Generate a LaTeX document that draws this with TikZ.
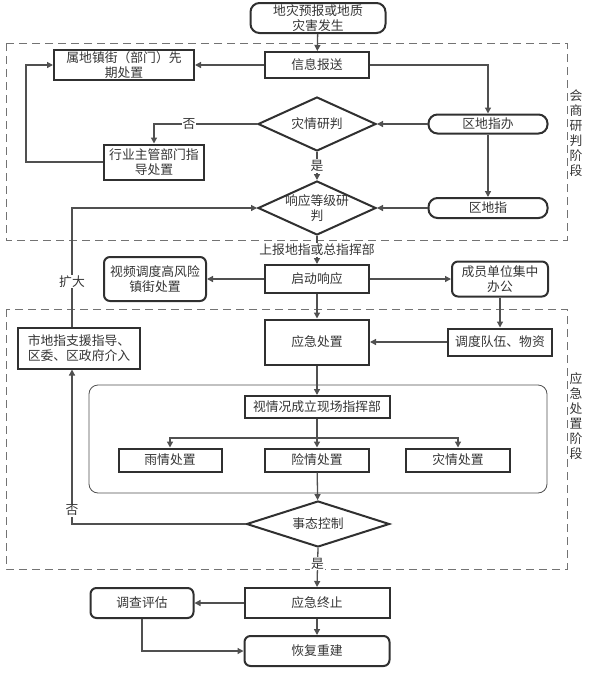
\documentclass[tikz,border=0pt]{standalone}
\usepackage{fontspec}
\setmainfont{Noto Sans CJK SC}
\usetikzlibrary{shapes.geometric,arrows.meta}
\newcommand\myfs{\fontsize{12.8}{15}\selectfont}
\definecolor{ln}{HTML}{505050}
\definecolor{bd}{HTML}{303030}
\definecolor{tx}{HTML}{353535}
\begin{document}
\begin{tikzpicture}[x=1pt,y=-1pt,
  base/.style={draw=bd,line width=2pt,fill=white,inner sep=1pt,align=center,font=\myfs,text=tx},
  box/.style={base,rectangle},
  rbox/.style={base,rectangle,rounded corners=6pt},
  stad/.style={base,rectangle,rounded corners=9pt},
  dia/.style={base,diamond,inner sep=0pt},
  dtext/.style={align=center,font=\myfs,text=tx,inner sep=0pt},
  arr/.style={draw=ln,line width=1.3pt,-{Triangle[length=6pt,width=6pt]}},
  ln/.style={draw=ln,line width=1.3pt},
  lab/.style={fill=white,inner sep=1pt,font=\myfs,text=tx},
  phase/.style={draw=ln!80,line width=0.9pt,dash pattern=on 8pt off 5pt},
  side/.style={font=\myfs,text=tx,align=center,inner sep=0pt}]
\useasboundingbox (0,0) rectangle (590,673);
% phase frames
\draw[phase] (6,43) rectangle (567,240);
\draw[phase] (6,309) rectangle (567,569);
\node[side] (s1) at (576,133) {会\\商\\研\\判\\阶\\段};
\node[side] (s2) at (576,416) {应\\急\\处\\置\\阶\\段};
\draw[draw=ln,line width=0.8pt,rounded corners=9pt] (89,385) rectangle (547,493);
% nodes
\node[stad,minimum width=135pt,minimum height=30pt] (start) at (318,18) {地灾预报或地质\\灾害发生};
\node[box,minimum width=104pt,minimum height=26pt] (info) at (317,65) {信息报送};
\node[box,minimum width=140pt,minimum height=30pt] (xian) at (124,65) {属地镇街（部门）先\\期处置};
\node[stad,minimum width=119pt,minimum height=19pt] (qdzb) at (488,124) {区地指办};
\node[dia,aspect=2.2,minimum width=118pt,minimum height=54pt] (zqyp) at (317,124) {};
\node[dtext] (zqypt) at (zqyp) {灾情研判};
\node[box,minimum width=100pt,minimum height=35pt] (hy) at (154,162) {行业主管部门指\\导处置};
\node[dia,aspect=2.2,minimum width=118pt,minimum height=54pt] (xyyp) at (317,208) {};
\node[dtext] (xyypt) at (xyyp) {响应等级研\\判};
\node[stad,minimum width=119pt,minimum height=20pt] (qdz) at (488,208) {区地指};
\node[box,minimum width=104pt,minimum height=28pt] (qd) at (317,279) {启动响应};
\node[rbox,minimum width=102pt,minimum height=44pt] (sp) at (155,279) {视频调度高风险\\镇街处置};
\node[rbox,minimum width=96pt,minimum height=35pt] (cy) at (500,279) {成员单位集中\\办公};
\node[box,minimum width=104pt,minimum height=45pt] (yjcz) at (317,342) {应急处置};
\node[box,minimum width=104pt,minimum height=27pt] (dd) at (500,342) {调度队伍、物资};
\node[box,minimum width=122pt,minimum height=41pt] (sdz) at (79,348) {市地指支援指导、\\区委、区政府介入};
\node[box,minimum width=145pt,minimum height=22pt] (xq) at (317,407) {视情况成立现场指挥部};
\node[box,minimum width=103pt,minimum height=23pt] (yq) at (170,460) {雨情处置};
\node[box,minimum width=104pt,minimum height=23pt] (xqcz) at (317,460) {险情处置};
\node[box,minimum width=104pt,minimum height=23pt] (zq) at (458,460) {灾情处置};
\node[dia,aspect=3.1,minimum width=143pt,minimum height=46pt] (stkz) at (318,524) {};
\node[dtext] (stkzt) at (stkz) {事态控制};
\node[box,minimum width=145pt,minimum height=30pt] (yjzz) at (317,603) {应急终止};
\node[rbox,minimum width=103pt,minimum height=30pt] (dcpg) at (142,603) {调查评估};
\node[rbox,minimum width=145pt,minimum height=30pt] (hfcj) at (317,651) {恢复重建};
% connectors
\draw[arr] (start) -- (info);
\draw[arr] (info) -- (xian);
\draw[arr] (info.east) -| (qdzb.north);
\draw[arr] (qdzb) -- (zqyp);
\draw[arr] (zqyp.west) -| node[lab,pos=0.33] {否} (hy.north);
\draw[arr] (hy.west) -- ++(-77,0) |- (xian.west);
\draw[arr] (zqyp.south) -- node[lab] {是} (xyyp.north);
\draw[arr] (qdzb) -- (qdz);
\draw[arr] (qdz) -- (xyyp);
\draw[arr] (sdz.north -| 72,0) |- node[lab,pos=0.19] {扩大} (xyyp.west);
\draw[arr] (xyyp.south) -- node[lab,pos=0.5] {上报地指或总指挥部} (qd.north);
\draw[arr] (qd) -- (sp);
\draw[arr] (qd) -- (cy);
\draw[arr] (qd) -- (yjcz);
\draw[arr] (cy) -- (dd);
\draw[arr] (dd) -- (yjcz);
\draw[arr] (yjcz) -- (xq);
\draw[ln] (xq.south) -- (317,438) coordinate (split);
\draw[arr] (split) -| (yq.north);
\draw[arr] (split) -| (zq.north);
\draw[arr] (split) -- (xqcz.north);
\draw[arr] (xqcz) -- (stkz);
\draw[arr] (stkz.west) -| node[lab,pos=0.545] {否} (sdz.south -| 72,0);
\draw[arr] (stkz.south) -- node[lab,pos=0.4] {是} (yjzz.north);
\draw[arr] (yjzz) -- (dcpg);
\draw[arr] (yjzz) -- (hfcj);
\draw[arr] (dcpg.south) |- (hfcj.west);
\end{tikzpicture}
\end{document}
